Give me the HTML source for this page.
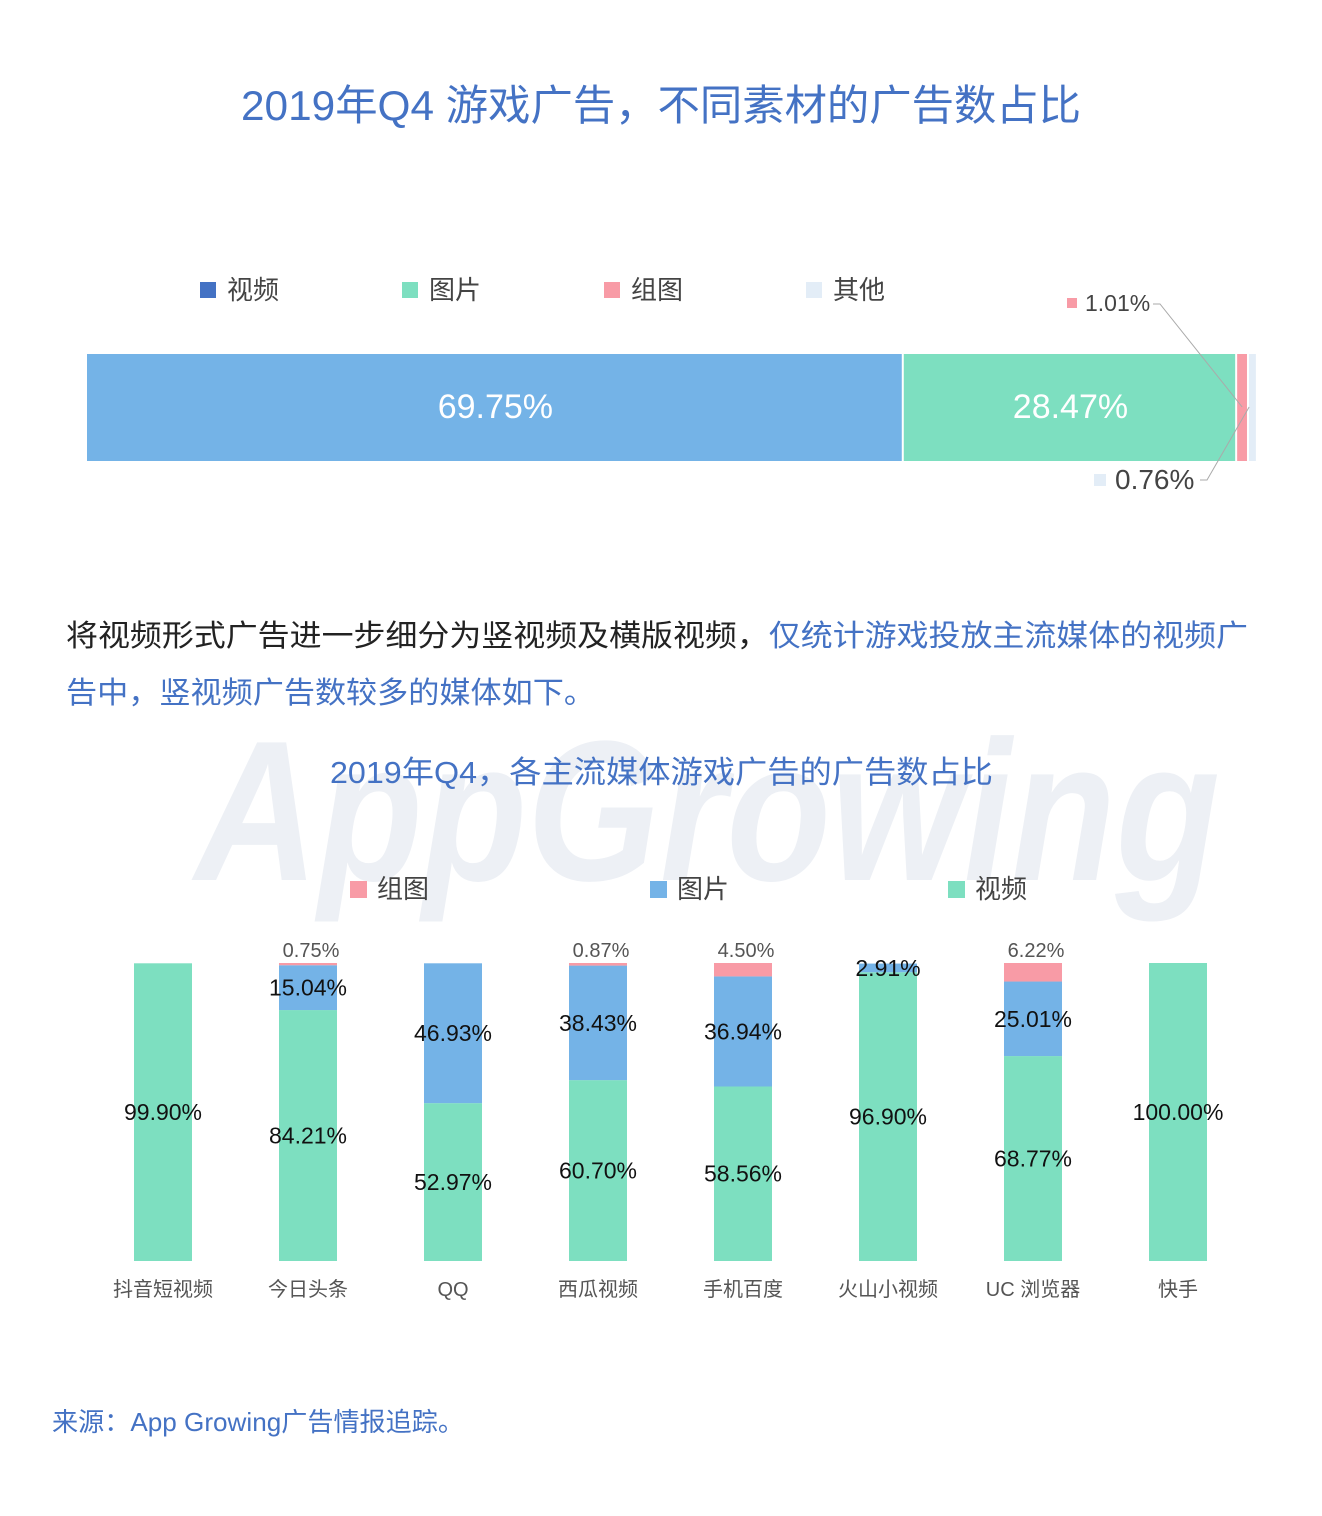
<!DOCTYPE html>
<html><head><meta charset="utf-8">
<style>
body{margin:0;background:#fff;width:1322px;height:1511px;overflow:hidden;font-family:"Liberation Sans","Noto Sans CJK SC",sans-serif;}
svg text{font-family:"Liberation Sans","Noto Sans CJK SC",sans-serif;}
</style></head>
<body>
<svg id="s" width="1322" height="1511" viewBox="0 0 1322 1511">
  <text x="195" y="880" font-size="200" font-weight="bold" font-style="italic" fill="#edf0f5" textLength="1025" lengthAdjust="spacingAndGlyphs">AppGrowing</text>
  <text x="241" y="120" font-size="42" fill="#4472c4" textLength="840" lengthAdjust="spacingAndGlyphs">2019年Q4 游戏广告，不同素材的广告数占比</text>
  <g id="topc"></g>
  <text x="66" y="646" font-size="30" fill="#222" textLength="1182" lengthAdjust="spacingAndGlyphs">将视频形式广告进一步细分为竖视频及横版视频，<tspan fill="#4472c4">仅统计游戏投放主流媒体的视频广</tspan></text>
  <text x="66" y="703" font-size="30" fill="#4472c4" textLength="529" lengthAdjust="spacingAndGlyphs">告中，竖视频广告数较多的媒体如下。</text>
  <text x="330" y="783" font-size="31" fill="#4472c4" textLength="663" lengthAdjust="spacingAndGlyphs">2019年Q4，各主流媒体游戏广告的广告数占比</text>
  <g id="botc"></g>
  <text x="52" y="1431" font-size="26" fill="#4472c4" textLength="412" lengthAdjust="spacingAndGlyphs">来源：App Growing广告情报追踪。</text>
</svg>
<script>
// top chart data
const topCats=['视频','图片','组图','其他'];
const topVals=[69.75,28.47,1.01,0.76];
const topColors=['#74b3e7','#7ddfc0','#f89ba6','#e3edf7'];
const legColors=['#4472c4','#7ddfc0','#f89ba6','#e3edf7'];
// bottom chart data
const media=['抖音短视频','今日头条','QQ','西瓜视频','手机百度','火山小视频','UC 浏览器','快手'];
const videoVals=[99.90,84.21,52.97,60.70,58.56,96.90,68.77,100.00];
const imageVals=[0,15.04,46.93,38.43,36.94,2.91,25.01,0];
const groupVals=[0,0.75,0,0.87,4.50,0,6.22,0];

const NS='http://www.w3.org/2000/svg';
function mk(tag,attrs,parent,txt){const e=document.createElementNS(NS,tag);for(const k in attrs)e.setAttribute(k,attrs[k]);if(txt!=null)e.textContent=txt;parent.appendChild(e);return e;}

const topG=document.getElementById('topc');
const tx=v=>87+v/100*1171;
const legX=[200,402,604,806];
topCats.forEach((c,i)=>{
  const r=mk('rect',{x:legX[i],y:282,width:16,height:16,fill:legColors[i]},topG);
  
  
  const t=mk('text',{x:legX[i]+27,y:299,'font-size':26,fill:'#444'},topG,c);
  
  
});
let acc=0;
topVals.forEach((v,i)=>{
  const x0=tx(acc),x1=tx(acc+v);
  const r=mk('rect',{x:x0,y:354,width:Math.max(1,x1-x0-2),height:107,fill:topColors[i]},topG);
  
  
  if(v>5){
    const t=mk('text',{x:(x0+x1)/2,y:418,'text-anchor':'middle','font-size':34,fill:'#fff'},topG,v.toFixed(2)+'%');
    
    
  }
  acc+=v;
});
const a2=tx(topVals[0]+topVals[1]);
mk('rect',{x:1067,y:298,width:10,height:10,fill:topColors[2]},topG);
const l1=mk('text',{x:1085,y:311,'font-size':23,fill:'#444'},topG,topVals[2].toFixed(2)+'%');


mk('polyline',{points:`1153,304 1160,304 ${a2+5},407`,fill:'none',stroke:'#aaa','stroke-width':1},topG);
mk('rect',{x:1094,y:474,width:12,height:12,fill:topColors[3]},topG);
const l2=mk('text',{x:1115,y:489,'font-size':28,fill:'#444'},topG,topVals[3].toFixed(2)+'%');


mk('polyline',{points:`1200,480 1207,480 ${a2+12},407`,fill:'none',stroke:'#aaa','stroke-width':1},topG);

const botG=document.getElementById('botc');
const legB=[['组图','#f89ba6',350],['图片','#74b3e7',650],['视频','#7ddfc0',948]];
legB.forEach(l=>{
  const r=mk('rect',{x:l[2],y:881,width:17,height:17,fill:l[1]},botG);
  
  
  const t=mk('text',{x:l[2]+27,y:898,'font-size':26,fill:'#444'},botG,l[0]);
  
  
});
const base=1261,H=298,bw=58;
const yS=v=>base-v/100*H;
const cx=i=>163+i*145;
media.forEach((m,i)=>{
  const x=cx(i)-bw/2;
  const segs=[[videoVals[i],'#7ddfc0','video'],[imageVals[i],'#74b3e7','image'],[groupVals[i],'#f89ba6','group']];
  let a=0;
  segs.forEach(s=>{
    if(s[0]<=0)return;
    const y1=yS(a+s[0]),y0=yS(a);
    const r=mk('rect',{x:x,y:y1,width:bw,height:y0-y1,fill:s[1]},botG);
    
    
    let t;
    if(s[2]==='group'){
      t=mk('text',{x:cx(i)+3,y:y1-6,'text-anchor':'middle','font-size':20,fill:'#555'},botG,s[0].toFixed(2)+'%');
    }else{
      t=mk('text',{x:cx(i),y:(y0+y1)/2+8,'text-anchor':'middle','font-size':23,fill:'#111'},botG,s[0].toFixed(2)+'%');
    }
    
    
    a+=s[0];
  });
  const t=mk('text',{x:cx(i),y:1296,'text-anchor':'middle','font-size':20,fill:'#555'},botG,m);
  
  
});
</script>
</body></html>
